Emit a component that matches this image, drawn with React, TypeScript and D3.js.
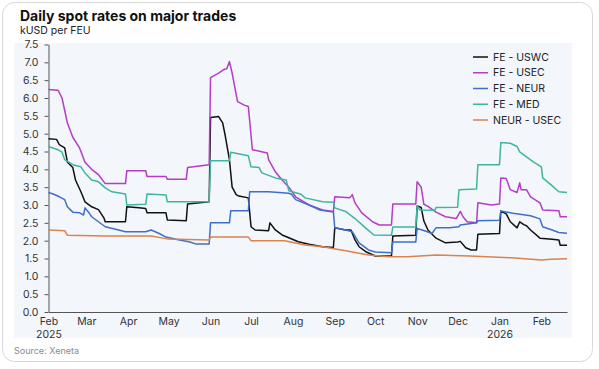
import React, { useEffect, useRef } from "react";
import * as d3 from "d3";

type Pt = [string, number];

// series values (kUSD per FEU)
const feUswc: Pt[] = [
  ["2025-02-01", 4.86], ["2025-02-07", 4.84], ["2025-02-09", 4.69], ["2025-02-13", 4.6], ["2025-02-15", 4.2],
  ["2025-02-19", 4.05], ["2025-02-21", 3.7], ["2025-02-25", 3.37], ["2025-02-28", 3.09], ["2025-03-05", 2.95],
  ["2025-03-10", 2.87], ["2025-03-14", 2.64], ["2025-03-15", 2.53], ["2025-03-30", 2.53], ["2025-03-31", 2.95],
  ["2025-04-09", 2.92], ["2025-04-14", 2.9], ["2025-04-15", 2.78], ["2025-04-29", 2.78], ["2025-04-30", 2.58],
  ["2025-05-14", 2.56], ["2025-05-15", 3.03], ["2025-05-31", 3.09], ["2025-06-01", 5.45], ["2025-06-07", 5.48],
  ["2025-06-10", 5.3], ["2025-06-12", 4.92], ["2025-06-15", 4.27], ["2025-06-17", 3.5], ["2025-06-20", 3.29],
  ["2025-06-22", 3.25], ["2025-06-29", 3.2], ["2025-07-01", 2.39], ["2025-07-04", 2.3], ["2025-07-14", 2.28],
  ["2025-07-15", 2.5], ["2025-07-19", 2.3], ["2025-07-24", 2.16], ["2025-07-29", 2.08], ["2025-08-05", 1.97],
  ["2025-08-13", 1.9], ["2025-08-23", 1.83], ["2025-08-31", 1.81], ["2025-09-01", 2.36], ["2025-09-09", 2.3],
  ["2025-09-13", 2.3], ["2025-09-16", 2.02], ["2025-09-19", 1.83], ["2025-09-24", 1.69], ["2025-10-01", 1.57],
  ["2025-10-13", 1.57], ["2025-10-14", 2.13], ["2025-10-31", 2.15], ["2025-11-01", 2.97], ["2025-11-04", 2.93],
  ["2025-11-06", 2.55], ["2025-11-09", 2.3], ["2025-11-15", 2.07], ["2025-11-22", 1.94], ["2025-12-01", 1.96],
  ["2025-12-03", 1.98], ["2025-12-07", 1.8], ["2025-12-11", 1.74], ["2025-12-15", 1.74], ["2025-12-16", 2.18],
  ["2026-01-01", 2.2], ["2026-01-02", 2.83], ["2026-01-06", 2.75], ["2026-01-09", 2.53], ["2026-01-14", 2.36],
  ["2026-01-16", 2.53], ["2026-01-19", 2.45], ["2026-01-21", 2.42], ["2026-01-24", 2.3], ["2026-01-31", 2.07],
  ["2026-02-09", 2.04], ["2026-02-14", 2.02], ["2026-02-15", 1.87], ["2026-02-20", 1.87],
];

const feUsec: Pt[] = [
  ["2025-02-01", 6.24], ["2025-02-08", 6.22], ["2025-02-11", 6.0], ["2025-02-15", 5.3], ["2025-02-19", 4.9],
  ["2025-02-24", 4.6], ["2025-02-26", 4.4], ["2025-02-28", 4.2], ["2025-03-05", 4.0], ["2025-03-10", 3.85],
  ["2025-03-15", 3.6], ["2025-03-30", 3.6], ["2025-03-31", 3.96], ["2025-04-14", 3.96], ["2025-04-15", 3.8],
  ["2025-04-29", 3.8], ["2025-04-30", 3.72], ["2025-05-14", 3.72], ["2025-05-15", 4.05], ["2025-05-31", 4.13],
  ["2025-06-01", 6.57], ["2025-06-07", 6.7], ["2025-06-11", 6.8], ["2025-06-13", 6.82], ["2025-06-15", 7.02],
  ["2025-06-17", 6.7], ["2025-06-21", 5.9], ["2025-06-26", 5.8], ["2025-06-29", 5.76], ["2025-07-02", 4.55],
  ["2025-07-13", 4.46], ["2025-07-14", 4.27], ["2025-07-19", 3.93], ["2025-07-24", 3.7], ["2025-07-29", 3.5],
  ["2025-08-03", 3.23], ["2025-08-13", 3.0], ["2025-08-23", 2.86], ["2025-08-31", 2.82], ["2025-09-01", 3.23],
  ["2025-09-12", 3.2], ["2025-09-14", 3.29], ["2025-09-16", 3.06], ["2025-09-21", 2.78], ["2025-09-29", 2.53],
  ["2025-10-04", 2.44], ["2025-10-13", 2.44], ["2025-10-14", 3.03], ["2025-10-31", 3.03], ["2025-11-01", 3.65],
  ["2025-11-04", 3.5], ["2025-11-06", 3.02], ["2025-11-09", 2.96], ["2025-11-15", 2.8], ["2025-11-22", 2.67],
  ["2025-11-30", 2.62], ["2025-12-03", 2.82], ["2025-12-05", 2.67], ["2025-12-08", 2.53], ["2025-12-15", 2.5],
  ["2025-12-16", 3.06], ["2025-12-26", 3.0], ["2026-01-01", 3.03], ["2026-01-02", 3.76], ["2026-01-06", 3.74],
  ["2026-01-09", 3.43], ["2026-01-14", 3.35], ["2026-01-16", 3.62], ["2026-01-17", 3.43], ["2026-01-21", 3.43],
  ["2026-01-24", 3.23], ["2026-01-31", 3.06], ["2026-02-02", 2.86], ["2026-02-14", 2.84], ["2026-02-15", 2.67],
  ["2026-02-20", 2.67],
];

const feNeur: Pt[] = [
  ["2025-02-01", 3.35], ["2025-02-05", 3.3], ["2025-02-09", 3.23], ["2025-02-13", 3.15], ["2025-02-15", 2.95],
  ["2025-02-19", 2.8], ["2025-02-24", 2.78], ["2025-02-27", 2.72], ["2025-02-28", 2.92], ["2025-03-03", 2.78],
  ["2025-03-05", 2.67], ["2025-03-10", 2.53], ["2025-03-15", 2.39], ["2025-03-25", 2.3], ["2025-03-30", 2.25],
  ["2025-04-14", 2.25], ["2025-04-18", 2.3], ["2025-04-24", 2.2], ["2025-04-29", 2.1], ["2025-05-09", 2.02],
  ["2025-05-16", 1.97], ["2025-05-21", 1.91], ["2025-05-31", 1.91], ["2025-06-01", 2.5], ["2025-06-15", 2.5],
  ["2025-06-16", 2.84], ["2025-06-29", 2.84], ["2025-06-30", 3.37], ["2025-07-14", 3.37], ["2025-07-29", 3.33],
  ["2025-07-31", 3.3], ["2025-08-03", 3.15], ["2025-08-13", 3.0], ["2025-08-21", 2.86], ["2025-08-31", 2.8],
  ["2025-09-01", 2.36], ["2025-09-09", 2.3], ["2025-09-14", 2.25], ["2025-09-19", 1.94], ["2025-09-26", 1.74],
  ["2025-10-01", 1.68], ["2025-10-13", 1.66], ["2025-10-14", 1.96], ["2025-10-31", 1.96], ["2025-11-01", 2.34],
  ["2025-11-07", 2.27], ["2025-11-12", 2.2], ["2025-11-15", 2.36], ["2025-11-25", 2.36], ["2025-12-02", 2.39],
  ["2025-12-03", 2.44], ["2025-12-15", 2.5], ["2025-12-16", 2.56], ["2026-01-01", 2.57], ["2026-01-02", 2.83],
  ["2026-01-11", 2.77], ["2026-01-24", 2.7], ["2026-01-31", 2.61], ["2026-02-02", 2.39], ["2026-02-09", 2.3],
  ["2026-02-14", 2.23], ["2026-02-20", 2.21],
];

const feMed: Pt[] = [
  ["2025-02-01", 4.64], ["2025-02-08", 4.55], ["2025-02-11", 4.48], ["2025-02-13", 4.27], ["2025-02-19", 4.13],
  ["2025-02-25", 4.07], ["2025-02-28", 3.9], ["2025-03-05", 3.7], ["2025-03-10", 3.65], ["2025-03-15", 3.48],
  ["2025-03-20", 3.37], ["2025-03-30", 3.31], ["2025-03-31", 3.0], ["2025-04-14", 3.02], ["2025-04-15", 3.31],
  ["2025-04-29", 3.28], ["2025-04-30", 3.09], ["2025-05-31", 3.09], ["2025-06-01", 4.24], ["2025-06-15", 4.24],
  ["2025-06-16", 4.48], ["2025-06-29", 4.38], ["2025-07-01", 4.07], ["2025-07-07", 4.05], ["2025-07-09", 3.9],
  ["2025-07-19", 3.76], ["2025-07-27", 3.7], ["2025-07-29", 3.4], ["2025-08-07", 3.3], ["2025-08-10", 3.2],
  ["2025-08-23", 3.09], ["2025-08-31", 3.08], ["2025-09-01", 2.92], ["2025-09-09", 2.82], ["2025-09-16", 2.62],
  ["2025-09-24", 2.35], ["2025-09-30", 2.16], ["2025-10-13", 2.15], ["2025-10-14", 2.38], ["2025-10-31", 2.38],
  ["2025-11-01", 2.98], ["2025-11-03", 2.86], ["2025-11-14", 2.85], ["2025-11-15", 2.93], ["2025-12-01", 2.94],
  ["2025-12-02", 3.43], ["2025-12-15", 3.45], ["2025-12-16", 4.13], ["2026-01-01", 4.13], ["2026-01-02", 4.75],
  ["2026-01-09", 4.73], ["2026-01-14", 4.64], ["2026-01-16", 4.49], ["2026-01-21", 4.35], ["2026-01-26", 4.21],
  ["2026-02-01", 4.07], ["2026-02-02", 3.76], ["2026-02-08", 3.57], ["2026-02-14", 3.37], ["2026-02-20", 3.35],
];

const neurUsec: Pt[] = [
  ["2025-02-01", 2.3], ["2025-02-13", 2.28], ["2025-02-15", 2.15], ["2025-03-15", 2.13], ["2025-04-18", 2.13],
  ["2025-04-30", 2.05], ["2025-05-31", 2.02], ["2025-06-01", 2.1], ["2025-06-29", 2.1], ["2025-07-01", 2.0],
  ["2025-07-26", 2.0], ["2025-08-10", 1.88], ["2025-08-23", 1.83], ["2025-09-09", 1.72], ["2025-09-26", 1.6],
  ["2025-10-11", 1.55], ["2025-10-25", 1.55], ["2025-11-15", 1.6], ["2025-12-10", 1.57], ["2026-01-10", 1.52],
  ["2026-02-01", 1.46], ["2026-02-08", 1.48], ["2026-02-20", 1.49],
];

const seriesNames = ["FE - USWC", "FE - USEC", "FE - NEUR", "FE - MED", "NEUR - USEC"];
const seriesData = [feUswc, feUsec, feNeur, feMed, neurUsec];
const seriesColors = ["#111111", "#b43cc8", "#3f6fc8", "#3fb5a0", "#d9834d"];

const yTicks = d3.range(0, 7.51, 0.5);
const xStart = "2025-02-01";
const xEnd = "2026-02-20";
const yearLabels: Record<string, string> = { "2025-02": "2025", "2026-01": "2026" };

const W = 599;
const H = 369;
const font = "Inter, 'Open Sans', sans-serif";

const parse = d3.timeParse("%Y-%m-%d");

export default function App() {
  const ref = useRef<SVGSVGElement>(null);

  useEffect(() => {
    const svg = d3.select(ref.current);
    svg.selectAll("*").remove();

    const x = d3.scaleTime().domain([parse(xStart)!, parse(xEnd)!]).range([48.5, 567]);
    const y = d3.scaleLinear().domain([0, 7.5]).range([312, 44.5]);

    // card
    svg.append("rect")
      .attr("x", 2.5).attr("y", 2.5).attr("width", 590).attr("height", 359)
      .attr("rx", 12).attr("fill", "#fff").attr("stroke", "#d8d8d8");
    svg.append("rect")
      .attr("x", 14).attr("y", 43).attr("width", 558).attr("height", 295)
      .attr("fill", "#f3f6fb");

    svg.append("text").attr("x", 20).attr("y", 21)
      .attr("font-family", font).attr("font-weight", 700).attr("font-size", 14)
      .attr("fill", "#111").text("Daily spot rates on major trades");
    svg.append("text").attr("x", 20).attr("y", 34)
      .attr("font-family", font).attr("font-size", 10.5)
      .attr("fill", "#222").text("kUSD per FEU");
    svg.append("text").attr("x", 14).attr("y", 354)
      .attr("font-family", font).attr("font-size", 9)
      .attr("fill", "#8a8a8a").text("Source: Xeneta");

    // y axis
    const gy = svg.append("g").attr("transform", "translate(48.5,0)")
      .call(d3.axisLeft(y).tickValues(yTicks).tickFormat(d3.format(".1f")).tickSize(4).tickSizeOuter(0).tickPadding(6));
    gy.select(".domain").attr("stroke", "#555");
    gy.selectAll(".tick line").attr("stroke", "#555");
    gy.selectAll("text").attr("font-family", font).attr("font-size", 10.5).attr("fill", "#333");

    // x axis
    const gx = svg.append("g").attr("transform", "translate(0,312)")
      .call(d3.axisBottom(x).ticks(d3.timeMonth.every(1)).tickFormat(d3.timeFormat("%b") as any).tickSize(0).tickSizeOuter(0).tickPadding(6));
    gx.select(".domain").attr("stroke", "#555");
    gx.selectAll("text").attr("font-family", font).attr("font-size", 10.5).attr("fill", "#333");
    gx.selectAll<SVGTextElement, Date>(".tick text").each(function (d) {
      const yr = yearLabels[d3.timeFormat("%Y-%m")(d)];
      if (yr) {
        d3.select(this).append("tspan").attr("x", 0).attr("dy", "1.15em").text(yr);
      }
    });

    // lines
    const line = d3.line<Pt>()
      .x(d => x(parse(d[0])!))
      .y(d => y(d[1]));

    seriesData.forEach((data, i) => {
      svg.append("path")
        .datum(data)
        .attr("fill", "none")
        .attr("stroke", seriesColors[i])
        .attr("stroke-width", 1.5)
        .attr("stroke-linejoin", "round")
        .attr("d", line);
    });

    // legend
    const legend = svg.append("g").attr("transform", "translate(473,57)");
    const item = legend.selectAll("g").data(seriesNames).join("g")
      .attr("transform", (d, i) => `translate(0,${i * 15.75})`);
    item.append("line").attr("x1", 0).attr("x2", 15).attr("y1", 0).attr("y2", 0)
      .attr("stroke", (d, i) => seriesColors[i]).attr("stroke-width", 1.5);
    item.append("text").attr("x", 20).attr("dy", "0.35em")
      .attr("font-family", font).attr("font-size", 10.5).attr("fill", "#222")
      .text(d => d);
  }, []);

  return (
    <div style={{ position: "absolute", left: 0, top: 0 }}>
      <svg ref={ref} width={W} height={H} style={{ display: "block", background: "#fff" }} />
    </div>
  );
}
